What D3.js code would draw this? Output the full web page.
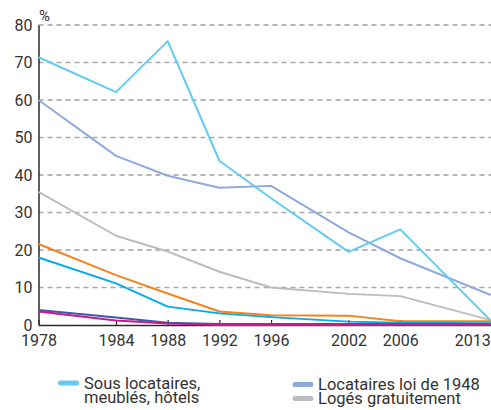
<!DOCTYPE html>
<html><head><meta charset="utf-8">
<script src="https://cdn.jsdelivr.net/npm/d3@7"></script>
<style>
html,body{margin:0;padding:0;background:#fff;}
svg{display:block;font-family:Roboto,"Noto Sans",sans-serif;}
</style></head>
<body><svg id="c" width="491" height="410"></svg>
<script>
const years = [1978, 1984, 1988, 1992, 1996, 2002, 2006, 2013];
const yTicks = [0, 10, 20, 30, 40, 50, 60, 70, 80];
const sousLocataires = [71.4, 62.1, 75.7, 43.8, 33.8, 19.5, 25.5, 1.2];
const loi1948 = [60.0, 45.1, 39.8, 36.6, 37.1, 24.7, 17.8, 8.0];
const logesGratuit = [35.5, 23.8, 19.6, 14.2, 10.0, 8.3, 7.7, 1.3];
const serieOrange = [21.6, 13.3, 8.4, 3.6, 2.6, 2.5, 1.0, 1.0];
const serieCyan = [18.0, 11.1, 4.9, 3.1, 2.1, 0.9, 0.6, 0.5];
const serieBleu = [4.0, 2.0, 0.6, 0.3, 0.3, 0.3, 0.3, 0.3];
const serieMagenta = [3.6, 1.2, 0.4, 0.0, 0.0, 0.0, 0.0, 0.0];
const legendLeft = ["Sous locataires,", "meublés, hôtels"];
const legendRight = ["Locataires loi de 1948", "Logés gratuitement"];

const series = [
  {v: logesGratuit, c: "#bdbdbf"},
  {v: loi1948, c: "#8eaadc"},
  {v: sousLocataires, c: "#63cbf1"},
  {v: serieOrange, c: "#f5821f"},
  {v: serieCyan, c: "#05aaea"},
  {v: serieBleu, c: "#3d5ba7"},
  {v: serieMagenta, c: "#c8198b"}
];

const svg = d3.select("#c");
const x = d3.scaleLinear().domain([1978, 2013]).range([38.5, 490.7]);
const y = d3.scaleLinear().domain([0, 80]).range([325, 25]);

// gridlines
svg.append("g").selectAll("line").data(yTicks.filter(d => d > 0)).join("line")
  .attr("x1", 38.5).attr("x2", 491)
  .attr("y1", d => y(d)).attr("y2", d => y(d))
  .attr("stroke", d => (d % 20 === 0 ? "#6f6f6f" : "#a9a9a9"))
  .attr("stroke-width", d => (d % 20 === 0 ? 1.2 : 1.6))
  .attr("stroke-dasharray", "5,4");

// y axis
const ya = svg.append("g").attr("transform", "translate(38.5,0)")
  .call(d3.axisLeft(y).tickValues(yTicks).tickSize(0).tickPadding(6));
ya.select(".domain").attr("stroke", "#2a2a2a").attr("stroke-width", 1.5);
ya.selectAll("text").attr("font-size", 16).attr("fill", "#333").attr("font-family", "Roboto");

// x axis
const xa = svg.append("g").attr("transform", "translate(0,325)")
  .call(d3.axisBottom(x).tickValues(years).tickFormat(d3.format("d"))
    .tickSizeInner(-5).tickSizeOuter(0).tickPadding(10));
xa.select(".domain").attr("stroke", "#2a2a2a").attr("stroke-width", 1.5);
xa.selectAll(".tick line").attr("stroke", "#2a2a2a").attr("stroke-width", 1.2);
xa.selectAll("text").attr("font-size", 16).attr("fill", "#333").attr("font-family", "Roboto");
xa.selectAll(".tick text").filter(d => d === years[years.length - 1])
  .attr("text-anchor", "end").attr("dx", -0.5);

svg.append("text").attr("x", 39).attr("y", 21).attr("font-size", 15).attr("fill", "#333").text("%");

// lines
const line = d3.line().x((d, i) => x(years[i])).y(d => y(d));
svg.append("g").selectAll("path").data(series).join("path")
  .attr("d", d => line(d.v))
  .attr("fill", "none")
  .attr("stroke", d => d.c)
  .attr("stroke-width", 2)
  .attr("stroke-linejoin", "round");

// legend
const lg = svg.append("g").attr("font-size", 16.5).attr("fill", "#333");
function swatch(x0, yy, c) {
  lg.append("line").attr("x1", x0).attr("x2", x0 + 16).attr("y1", yy).attr("y2", yy)
    .attr("stroke", c).attr("stroke-width", 5).attr("stroke-linecap", "round");
}
swatch(60.5, 383, series[2].c);
lg.append("text").attr("x", 84).attr("y", 389).text(legendLeft[0]);
lg.append("text").attr("x", 84).attr("y", 402.5).text(legendLeft[1]);
swatch(295, 384.5, series[1].c);
lg.append("text").attr("x", 318).attr("y", 390).text(legendRight[0]);
swatch(295, 398.5, series[0].c);
lg.append("text").attr("x", 318).attr("y", 403.5).text(legendRight[1]);
</script></body></html>
